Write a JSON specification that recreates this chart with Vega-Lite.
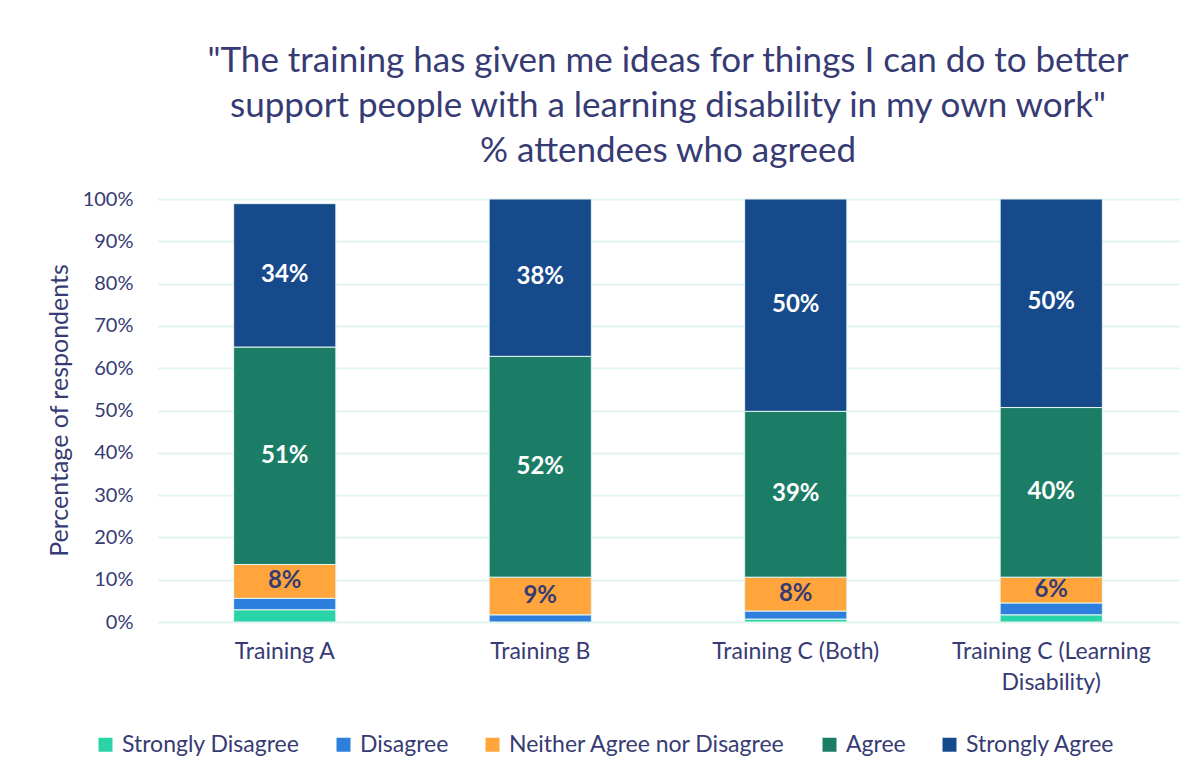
{
  "$schema": "https://vega.github.io/schema/vega-lite/v6.json",
  "autosize": "none",
  "width": 1022,
  "height": 423,
  "padding": {"left": 157, "top": 199, "right": 21, "bottom": 159},
  "background": "white",
  "title": {
    "text": ["\"The training has given me ideas for things I can do to better", "support people with a learning disability in my own work\"", "% attendees who agreed"],
    "font": "Lato",
    "fontSize": 35,
    "fontWeight": "normal",
    "color": "#373B74",
    "lineHeight": 45,
    "anchor": "middle",
    "baseline": "bottom",
    "offset": -15
  },
  "data": {
    "values": [
      {"training": "Training A", "response": "Strongly Disagree", "order": 1, "value": 0.029},
      {"training": "Training A", "response": "Disagree", "order": 2, "value": 0.027},
      {"training": "Training A", "response": "Neither Agree nor Disagree", "order": 3, "value": 0.08},
      {"training": "Training A", "response": "Agree", "order": 4, "value": 0.514},
      {"training": "Training A", "response": "Strongly Agree", "order": 5, "value": 0.339},
      {"training": "Training B", "response": "Strongly Disagree", "order": 1, "value": 0},
      {"training": "Training B", "response": "Disagree", "order": 2, "value": 0.017},
      {"training": "Training B", "response": "Neither Agree nor Disagree", "order": 3, "value": 0.089},
      {"training": "Training B", "response": "Agree", "order": 4, "value": 0.522},
      {"training": "Training B", "response": "Strongly Agree", "order": 5, "value": 0.376},
      {"training": "Training C (Both)", "response": "Strongly Disagree", "order": 1, "value": 0.007},
      {"training": "Training C (Both)", "response": "Disagree", "order": 2, "value": 0.019},
      {"training": "Training C (Both)", "response": "Neither Agree nor Disagree", "order": 3, "value": 0.08},
      {"training": "Training C (Both)", "response": "Agree", "order": 4, "value": 0.392},
      {"training": "Training C (Both)", "response": "Strongly Agree", "order": 5, "value": 0.502},
      {"training": "Training C (Learning Disability)", "response": "Strongly Disagree", "order": 1, "value": 0.017},
      {"training": "Training C (Learning Disability)", "response": "Disagree", "order": 2, "value": 0.028},
      {"training": "Training C (Learning Disability)", "response": "Neither Agree nor Disagree", "order": 3, "value": 0.061},
      {"training": "Training C (Learning Disability)", "response": "Agree", "order": 4, "value": 0.401},
      {"training": "Training C (Learning Disability)", "response": "Strongly Agree", "order": 5, "value": 0.497}
    ]
  },
  "transform": [
    {"stack": "value", "groupby": ["training"], "sort": [{"field": "order", "order": "ascending"}], "as": ["v0", "v1"]}
  ],
  "encoding": {
    "x": {
      "field": "training",
      "type": "nominal",
      "sort": ["Training A", "Training B", "Training C (Both)", "Training C (Learning Disability)"],
      "scale": {"paddingInner": 0.6, "paddingOuter": 0.3},
      "axis": {
        "title": null,
        "labelAngle": 0,
        "labelFont": "Lato",
        "labelFontSize": 23,
        "labelColor": "#373B74",
        "labelPadding": 18,
        "labelLineHeight": 31,
        "labelLimit": 400,
        "ticks": false,
        "domain": false,
        "labelExpr": "datum.value == 'Training C (Learning Disability)' ? ['Training C (Learning', 'Disability)'] : datum.value"
      }
    }
  },
  "layer": [
    {
      "mark": {"type": "bar", "stroke": "#E3F6F1", "strokeWidth": 1},
      "encoding": {
        "y": {
          "field": "v0",
          "type": "quantitative",
          "scale": {"domain": [0, 1], "nice": false, "clamp": true},
          "axis": {
            "title": "Percentage of respondents",
            "format": ".0%",
            "values": [0, 0.1, 0.2, 0.3, 0.4, 0.5, 0.6, 0.7, 0.8, 0.9, 1.0],
            "labelOverlap": false,
            "labelFont": "Lato",
            "labelFontSize": 20,
            "labelColor": "#373B74",
            "labelPadding": 24,
            "ticks": false,
            "domain": false,
            "grid": true,
            "gridColor": "#E0F5EF",
            "gridWidth": 2,
            "titleFont": "Lato",
            "titleFontSize": 25,
            "titleFontWeight": "normal",
            "titleColor": "#373B74",
            "titleX": -98,
            "titleY": 211,
            "titleAngle": -90,
            "titleAlign": "center",
            "titleBaseline": "middle"
          }
        },
        "y2": {"field": "v1"},
        "color": {
          "field": "response",
          "type": "nominal",
          "scale": {
            "domain": ["Strongly Disagree", "Disagree", "Neither Agree nor Disagree", "Agree", "Strongly Agree"],
            "range": ["#2BD4A8", "#2E7FDD", "#FFA53C", "#1B7D65", "#174A8B"]
          },
          "legend": {
            "title": null,
            "orient": "none",
            "direction": "horizontal",
            "legendX": -63,
            "legendY": 534,
            "symbolType": "square",
            "symbolSize": 196,
            "symbolStrokeWidth": 0,
            "symbolOpacity": 1,
            "labelFont": "Lato",
            "labelFontSize": 23,
            "labelColor": "#373B74",
            "labelOffset": 5,
            "columnPadding": 32,
            "labelLimit": 400
          }
        }
      }
    },
    {
      "transform": [
        {"filter": {"field": "response", "oneOf": ["Neither Agree nor Disagree", "Agree", "Strongly Agree"]}},
        {"fold": ["v0", "v1"], "as": ["k", "pos"]},
        {"aggregate": [{"op": "mean", "field": "pos", "as": "mid"}], "groupby": ["training", "response", "value"]}
      ],
      "mark": {"type": "text", "font": "Lato", "fontSize": 24, "fontWeight": "bold", "baseline": "middle", "align": "center"},
      "encoding": {
        "y": {"field": "mid", "type": "quantitative"},
        "text": {"field": "value", "type": "quantitative", "format": ".0%"},
        "color": {
          "condition": {"test": "datum.response === 'Neither Agree nor Disagree'", "value": "#373B74"},
          "value": "#FFFFFF"
        }
      }
    }
  ],
  "config": {
    "view": {"stroke": null}
  }
}
